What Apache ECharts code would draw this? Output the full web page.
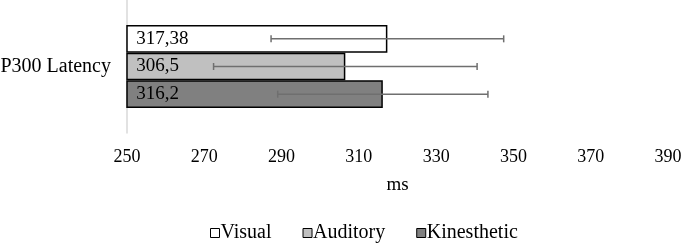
<!DOCTYPE html>
<html>
<head>
<meta charset="utf-8">
<script src="https://cdn.jsdelivr.net/npm/echarts@6/dist/echarts.min.js"></script>
<style>
html,body{margin:0;padding:0;background:#fff;}
#chart{width:685px;height:243px;}
</style>
</head>
<body>
<div id="chart"></div>
<script>
var categories = ['P300 Latency'];
var seriesNames = ['Visual', 'Auditory', 'Kinesthetic'];
var means = [317.38, 306.5, 316.2];
var errors = [30.1, 34.1, 27.2];
var fills = ['#ffffff', '#c0c0c0', '#808080'];
var xTicks = {min: 250, max: 390, interval: 20};

var FONT = '"Liberation Serif", "Times New Roman", serif';
var chart = echarts.init(document.getElementById('chart'));
var GAP = 0.376;

var series = seriesNames.map(function (name, i) {
  return {
    name: name,
    type: 'bar',
    barGap: '0%',
    barCategoryGap: (GAP * 100) + '%',
    data: [means[i]],
    itemStyle: {color: fills[i], borderColor: '#000', borderWidth: 1.5},
    label: {
      show: true, position: 'insideLeft', distance: 10,
      fontFamily: FONT, fontSize: 19, color: '#000',
      formatter: function (p) { return String(p.value).replace('.', ','); }
    },
    z: 2
  };
});

var n = seriesNames.length;
series.push({
  type: 'custom',
  name: 'err',
  z: 5,
  data: means.map(function (m, i) { return [m - errors[i], m + errors[i], 0, i]; }),
  encode: {x: [0, 1], y: 2},
  renderItem: function (params, api) {
    var lo = api.coord([api.value(0), api.value(2)]);
    var hi = api.coord([api.value(1), api.value(2)]);
    var band = api.size([0, 1])[1];
    var idx = api.value(3);
    var bw = band * (1 - GAP) / n;
    var y = lo[1] - band * (1 - GAP) / 2 + bw * idx + bw / 2;
    var cap = 3.5;
    var style = {stroke: '#6f6f6f', lineWidth: 1.5};
    return {
      type: 'group',
      children: [
        {type: 'line', shape: {x1: lo[0], y1: y, x2: hi[0], y2: y}, style: style},
        {type: 'line', shape: {x1: lo[0], y1: y - cap, x2: lo[0], y2: y + cap}, style: style},
        {type: 'line', shape: {x1: hi[0], y1: y - cap, x2: hi[0], y2: y + cap}, style: style}
      ]
    };
  }
});

chart.setOption({
  animation: false,
  backgroundColor: '#fff',
  grid: {left: 127, right: 17, top: 0, height: 133, containLabel: false, outerBoundsMode: 'none'},
  legend: {
    data: seriesNames.map(function (s, i) {
      return {name: s, icon: 'rect', itemStyle: {color: fills[i], borderColor: '#000', borderWidth: 1}};
    }),
    bottom: -5, left: 205,
    itemWidth: 9, itemHeight: 9, itemGap: 31,
    textStyle: {fontFamily: FONT, fontSize: 20, color: '#000', padding: [0, 0, 0, -4]}
  },
  xAxis: {
    type: 'value', min: xTicks.min, max: xTicks.max, interval: xTicks.interval,
    name: 'ms', nameLocation: 'middle', nameGap: 43,
    nameTextStyle: {fontFamily: FONT, fontSize: 19, color: '#000'},
    axisLine: {show: false}, axisTick: {show: false}, splitLine: {show: false},
    axisLabel: {fontFamily: FONT, fontSize: 18, color: '#000', margin: 15}
  },
  yAxis: {
    type: 'category', data: categories,
    axisLine: {show: true, lineStyle: {color: '#d9d9d9', width: 1.5}},
    axisTick: {show: false},
    axisLabel: {fontFamily: FONT, fontSize: 20, color: '#000', margin: 16}
  },
  series: series
});
</script>
</body>
</html>
